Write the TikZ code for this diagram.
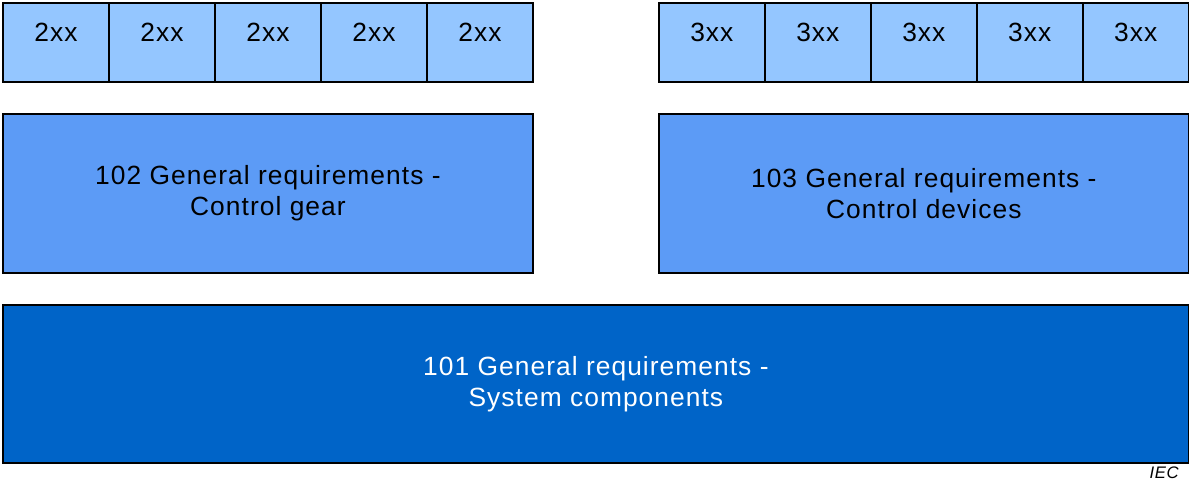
\documentclass[tikz,border=0pt]{standalone}
\usepackage{fontspec}
\setmainfont{Liberation Sans}[LetterSpace=4]
\usetikzlibrary{positioning}
\definecolor{partlight}{RGB}{148,198,255}
\definecolor{partmid}{RGB}{92,155,246}
\definecolor{partdark}{RGB}{0,100,200}

\begin{document}
\begin{tikzpicture}[
  x=0.02cm, y=-0.02cm,
  font=\fontsize{15}{17.5}\selectfont,
  part/.style={rectangle, draw=black, line width=0.8pt, fill=#1, outer sep=0pt,
    inner sep=0pt, align=center},
  subpart/.style={part=partlight, minimum width=2.12cm, minimum height=1.58cm,
    text height=0.38cm, text depth=0.44cm},
  general/.style={part=#1, minimum width=10.6cm, minimum height=3.18cm}
]
\useasboundingbox (0,0) rectangle (1190,481);
% general parts
\node[general=partmid, anchor=north west] (gear) at (3,114) {102 General requirements -\\Control gear};
\node[general=partmid, right=2.52cm of gear] (devices) {103 General requirements -\\Control devices};
\node[general=partdark, text=white, minimum width=23.72cm, minimum height=3.16cm,
  below right=0.64cm and 0pt of gear.south west] (system) {101 General requirements -\\System components};
% particular parts on top
\node[subpart, above right=0.64cm and 0pt of gear.north west] (g1) {2xx};
\node[subpart, right=0pt of g1] (g2) {2xx};
\node[subpart, right=0pt of g2] (g3) {2xx};
\node[subpart, right=0pt of g3] (g4) {2xx};
\node[subpart, right=0pt of g4] (g5) {2xx};
\node[subpart, above right=0.64cm and 0pt of devices.north west] (d1) {3xx};
\node[subpart, right=0pt of d1] (d2) {3xx};
\node[subpart, right=0pt of d2] (d3) {3xx};
\node[subpart, right=0pt of d3] (d4) {3xx};
\node[subpart, right=0pt of d4] (d5) {3xx};
\node[font=\fontsize{9.5}{11}\selectfont\itshape, inner sep=0pt, anchor=east] (iec) at (1179,473) {IEC};
\end{tikzpicture}
\end{document}
